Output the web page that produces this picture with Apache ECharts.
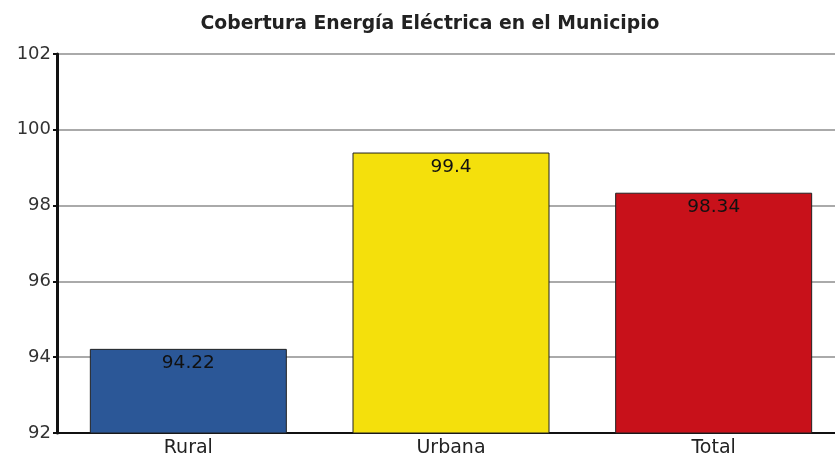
<!DOCTYPE html>
<html><head><meta charset="utf-8">
<script src="https://cdn.jsdelivr.net/npm/echarts@6/dist/echarts.min.js"></script>
<style>html,body{margin:0;padding:0;background:#fff;overflow:hidden}#c{width:850px;height:465px}</style>
</head><body><div id="c"></div>
<script>
const categories = ['Rural', 'Urbana', 'Total'];
const values = [94.22, 99.4, 98.34];
const barColors = ['#2b5797', '#f4e00c', '#c8111a'];
const titleText = 'Cobertura Energía Eléctrica en el Municipio';

const FONT = 'DejaVu Sans';
const chart = echarts.init(document.getElementById('c'));
chart.setOption({
  animation: false,
  title: { text: titleText, left: 425, top: 10, textAlign: 'center',
    textStyle: { fontFamily: FONT, fontSize: 18.8, fontWeight: 'bold', color: '#222' } },
  grid: { left: 57, right: 5, top: 54, bottom: 32, containLabel: false },
  xAxis: { type: 'category', data: categories,
    axisLine: { lineStyle: { color: '#111', width: 2 } },
    axisTick: { alignWithLabel: true, length: 4, lineStyle: { color: '#111', width: 2 } },
    axisLabel: { color: '#222', fontSize: 19, fontFamily: FONT, margin: 6 } },
  yAxis: { type: 'value', min: 92, max: 102, interval: 2,
    axisLine: { show: true, lineStyle: { color: '#111', width: 3 } },
    axisTick: { show: true, length: 4, lineStyle: { color: '#111', width: 2 } },
    axisLabel: { color: '#333', fontSize: 18, fontFamily: FONT, margin: 6 },
    splitLine: { lineStyle: { color: '#aaa', width: 2 } } },
  series: [{ type: 'bar', barWidth: '75%',
    data: values.map((v, i) => ({ value: v, itemStyle: { color: barColors[i] } })),
    itemStyle: { borderColor: '#222', borderWidth: 1 },
    label: { show: true, position: 'insideTop', distance: 5, color: '#111', fontSize: 18.5,
      fontFamily: FONT } }]
});
</script></body></html>
